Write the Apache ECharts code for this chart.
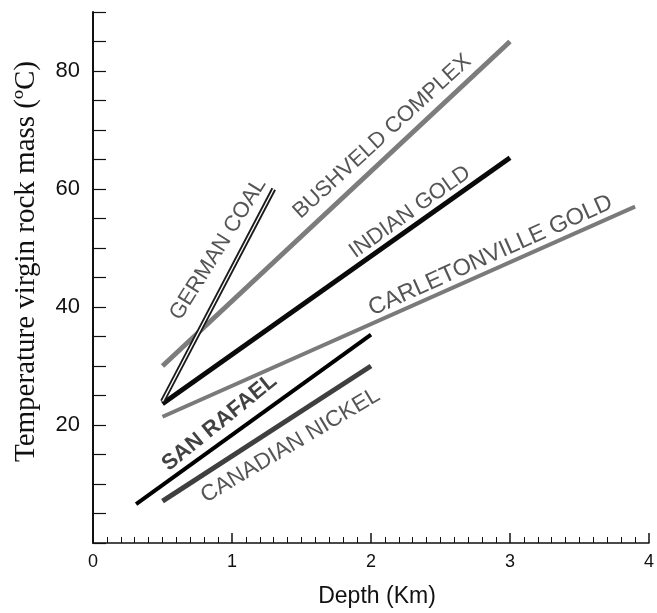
<!DOCTYPE html>
<html>
<head>
<meta charset="utf-8">
<script src="https://cdn.jsdelivr.net/npm/echarts@6/dist/echarts.min.js"></script>
<style>
  html, body { margin: 0; padding: 0; background: #fff; }
  #chart { width: 657px; height: 613px; }
</style>
</head>
<body>
<div id="chart"></div>
<script>
// depth (km) vs virgin rock temperature (degC), start and end of each trend
const germanCoal = [[0.5, 24], [1.3, 60]];
const bushveldComplex = [[0.5, 30], [3.0, 85]];
const indianGold = [[0.5, 23.6], [3.0, 65.3]];
const carletonvilleGold = [[0.5, 21.4], [3.9, 57]];
const sanRafael = [[0.31, 6.6], [2.0, 35.3]];
const canadianNickel = [[0.5, 7.1], [2.0, 30]];

const lineNames = ['GERMAN COAL', 'BUSHVELD COMPLEX', 'INDIAN GOLD', 'CARLETONVILLE GOLD', 'SAN RAFAEL', 'CANADIAN NICKEL'];
const yTickLabels = [20, 40, 60, 80];
const xTickLabels = [0, 1, 2, 3, 4];

// where the rotated names sit (data coords) and their angle
const labelSpots = [
  { name: lineNames[0], at: [0.90, 49.8], rot: 58, size: 22 },
  { name: lineNames[1], at: [2.08, 68.9], rot: 42.4, size: 22 },
  { name: lineNames[2], at: [2.28, 56.1], rot: 35.5, size: 22 },
  { name: lineNames[3], at: [2.86, 48.7], rot: 24.2, size: 23.5 },
  { name: lineNames[4], at: [0.91, 20.4], rot: 39, size: 22, bold: true },
  { name: lineNames[5], at: [1.42, 16.5], rot: 30.7, size: 22.5 }
];

const chart = echarts.init(document.getElementById('chart'), null, { renderer: 'canvas' });

function trend(name, data, color, width, z) {
  return {
    name: name, type: 'line', data: data, symbol: 'none', z: z || 2,
    lineStyle: { color: color, width: width, cap: 'butt' },
    animation: false, silent: true
  };
}

const series = [
  trend(lineNames[1], bushveldComplex, '#7c7c7c', 5),
  trend(lineNames[2], indianGold, '#0a0a0a', 5),
  trend(lineNames[3], carletonvilleGold, '#7a7a7a', 4),
  trend(lineNames[4], sanRafael, '#000000', 4),
  trend(lineNames[5], canadianNickel, '#3f3f3f', 5),
  trend(lineNames[0], germanCoal, '#1a1a1a', 5, 3),
  trend(lineNames[0] + ' inner', germanCoal, '#ffffff', 1.3, 4),
  {
    type: 'scatter', symbolSize: 0, animation: false, silent: true, z: 5,
    data: labelSpots.map((s) => ({
      value: s.at,
      label: {
        show: true, position: 'inside', formatter: s.name, rotate: s.rot,
        fontFamily: 'Liberation Sans', fontSize: s.size,
        fontWeight: s.bold ? 'bold' : 'normal',
        color: s.bold ? '#111' : '#2a2a2a'
      }
    }))
  }
];

chart.setOption({
  backgroundColor: '#fff',
  animation: false,
  grid: { left: 93, right: 2, top: 12, bottom: 68, containLabel: false },
  xAxis: {
    type: 'value', min: 0, max: 4, interval: 1,
    name: 'Depth (Km)', nameLocation: 'middle', nameGap: 42,
    nameTextStyle: { fontFamily: 'Liberation Sans', fontSize: 23, color: '#111', padding: [0, 0, 0, 12] },
    axisLine: { show: true, lineStyle: { color: '#111', width: 1.5 } },
    axisTick: { show: true, inside: true, length: 10, lineStyle: { color: '#111', width: 1.5 } },
    minorTick: { show: true, splitNumber: 10, length: 6, lineStyle: { color: '#111', width: 1 } },
    axisLabel: {
      margin: 10, fontFamily: 'Liberation Sans', fontSize: 18, color: '#111',
      formatter: (v) => (xTickLabels.includes(v) ? String(v) : '')
    },
    splitLine: { show: false }
  },
  yAxis: {
    type: 'value', min: 0, max: 90, interval: 5,
    name: 'Temperature virgin rock mass (ºC)', nameLocation: 'middle', nameGap: 52,
    nameTextStyle: { fontFamily: 'Liberation Serif', fontSize: 29, color: '#111', padding: [0, 0, 0, 32] },
    axisLine: { show: true, lineStyle: { color: '#111', width: 2 } },
    axisTick: { show: true, inside: true, length: 13, lineStyle: { color: '#111', width: 1.2 } },
    axisLabel: {
      margin: 13, fontFamily: 'Liberation Sans', fontSize: 22, color: '#111',
      formatter: (v) => (yTickLabels.includes(v) ? String(v) : '')
    },
    splitLine: { show: false }
  },
  series: series
});
</script>
</body>
</html>
